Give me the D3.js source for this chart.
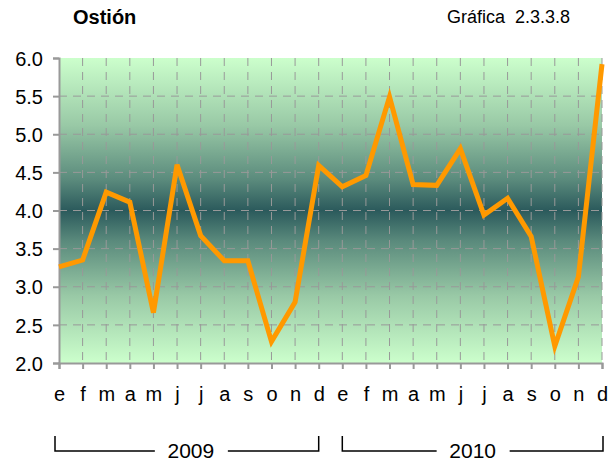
<!DOCTYPE html>
<html lang="es">
<head>
<meta charset="UTF-8">
<title>Ostión</title>
<style>
  body { margin: 0; background: #fff; }
  text { font-family: "Liberation Sans", Arial, sans-serif; }
</style>
</head>
<body>
<div id="chart"></div>
<script src="https://d3js.org/d3.v7.min.js"></script>
<script>
// month labels and values, 2009 then 2010
var months = ["e","f","m","a","m","j","j","a","s","o","n","d",
              "e","f","m","a","m","j","j","a","s","o","n","d"];
var values = [3.26, 3.35, 4.24, 4.11, 2.66, 4.6, 3.67, 3.34, 3.34, 2.28, 2.8, 4.59,
              4.31, 4.46, 5.49, 4.34, 4.33, 4.81, 3.94, 4.16, 3.66, 2.22, 3.13, 5.92];
var years = ["2009", "2010"];
var yTicks = [2.0, 2.5, 3.0, 3.5, 4.0, 4.5, 5.0, 5.5, 6.0];

var W = 611, H = 461;
var margin = {top: 58, right: 9, bottom: 98, left: 59},
    width = W - margin.left - margin.right,
    height = H - margin.top - margin.bottom;

var svg = d3.select("#chart").append("svg")
    .attr("width", W)
    .attr("height", H);

svg.append("text")
    .attr("x", 73).attr("y", 24)
    .style("font-size", "20px").style("font-weight", "bold")
    .text("Ostión");
svg.append("text")
    .attr("x", 447).attr("y", 23)
    .style("font-size", "18px")
    .style("white-space", "pre")
    .text("Gráfica  2.3.3.8");

var g = svg.append("g")
    .attr("transform", "translate(" + margin.left + "," + margin.top + ")");

var idx = months.map(function(d, i) { return i; });
var x = d3.scaleLinear().domain([0, months.length - 1]).range([0, width]);
var y = d3.scaleLinear().domain([2, 6]).range([height, 0]);

// background gradient
var grad = svg.append("defs").append("linearGradient")
    .attr("id", "bg").attr("x1", 0).attr("y1", 0).attr("x2", 0).attr("y2", 1);
[[0, "#ccffcc"], [0.22, "#99c9a6"], [0.4, "#5a8a7c"], [0.5, "#2b5a5c"],
 [0.6, "#5a8a7c"], [0.78, "#99c9a6"], [1, "#ccffcc"]].forEach(function(s) {
  grad.append("stop").attr("offset", s[0]).attr("stop-color", s[1]);
});
g.append("rect")
    .attr("x", 0).attr("y", 0)
    .attr("width", width).attr("height", height)
    .attr("fill", "url(#bg)");

// grid
g.append("g").selectAll("line")
  .data(yTicks.slice(1, -1)).enter().append("line")
    .attr("x1", 0).attr("x2", width)
    .attr("y1", function(d) { return y(d); }).attr("y2", function(d) { return y(d); })
    .attr("stroke", "#999").attr("stroke-dasharray", "8,6");
g.append("g").selectAll("line")
  .data(idx.slice(1)).enter().append("line")
    .attr("x1", function(d) { return x(d); }).attr("x2", function(d) { return x(d); })
    .attr("y1", 0).attr("y2", height)
    .attr("stroke", "#999").attr("stroke-dasharray", "8,6");

// axes
var yAxis = g.append("g")
    .call(d3.axisLeft(y).tickValues(yTicks).tickFormat(d3.format(".1f")).tickSize(6).tickPadding(10));
var xAxis = g.append("g")
    .attr("transform", "translate(0," + height + ")")
    .call(d3.axisBottom(x).tickValues(idx).tickFormat(function(i) { return months[i]; })
          .tickSize(6).tickPadding(18));
[yAxis, xAxis].forEach(function(a) {
  a.select(".domain").attr("stroke", "#999").attr("stroke-width", 2);
  a.selectAll(".tick line").attr("stroke", "#999").attr("stroke-width", 2);
  a.selectAll("text").attr("fill", "#000").style("font-size", "20px")
    .style("font-family", "'Liberation Sans', Arial, sans-serif");
});
yAxis.selectAll("text").attr("dy", "0.36em");

// line
g.append("path")
    .datum(values)
    .attr("fill", "none")
    .attr("stroke", "#ff9900")
    .attr("stroke-width", 5)
    .attr("stroke-linejoin", "miter")
    .attr("d", d3.line().x(function(d, i) { return x(i); }).y(function(d) { return y(d); }));

// year brackets
years.forEach(function(yr, k) {
  var x0 = x(k * 12) - (k ? 0 : 4), x1 = x(k * 12 + 11) + (k ? 1 : 0);
  var top = 436 - margin.top, bot = 451 - margin.top;
  var mid = (x0 + x1) / 2 + (k ? 0 : 4);
  var b = g.append("g").attr("fill", "none").attr("stroke", "#000").attr("stroke-width", 1.5);
  b.append("path").attr("d", "M" + x0 + "," + top + "V" + bot + "H" + (mid - 36));
  b.append("path").attr("d", "M" + (mid + 37) + "," + bot + "H" + x1 + "V" + top);
  g.append("text")
    .attr("x", mid).attr("y", 458 - margin.top)
    .attr("text-anchor", "middle")
    .style("font-size", "21px")
    .text(yr);
});
</script>
</body>
</html>
